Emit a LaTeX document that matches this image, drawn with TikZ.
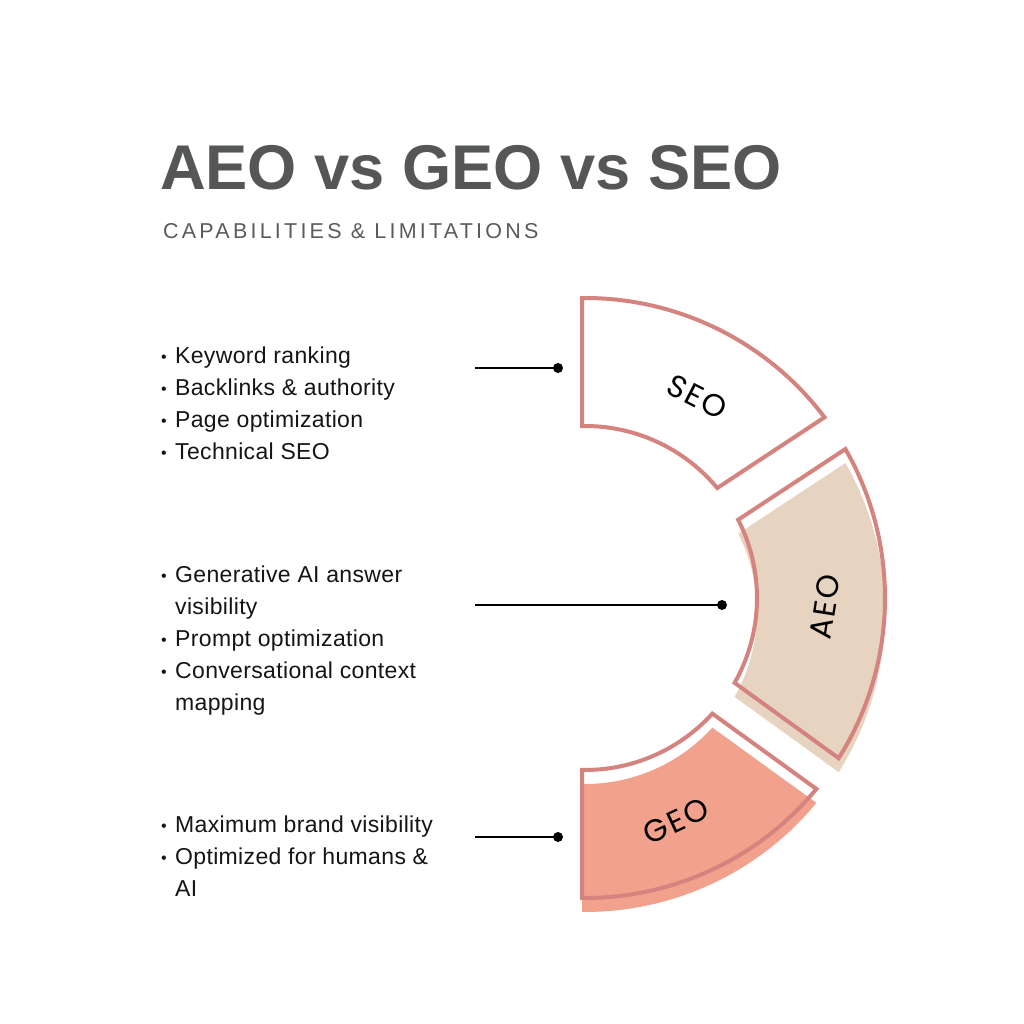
\documentclass[tikz,border=0pt]{standalone}
\usepackage{fontspec}
\setmainfont{Liberation Sans}
\newfontfamily\titlefont{Liberation Sans}
\newfontfamily\subfont[LetterSpace=15]{Liberation Sans}
\newfontfamily\listfont[LetterSpace=1.5]{Liberation Sans}
\newfontfamily\labelfont[LetterSpace=6]{Poppins}
\definecolor{titlegray}{HTML}{545755}
\definecolor{subgray}{HTML}{5A5C5B}
\definecolor{outlinepink}{HTML}{D4837E}
\definecolor{beigefill}{HTML}{E7D4C0}
\definecolor{salmonfill}{HTML}{F2A18D}
\definecolor{listblack}{HTML}{151515}
\def\segSEO{(90.57:300pt) arc[start angle=90.57,end angle=37.03,radius=300pt] -- (39.74:172pt) arc[start angle=39.74,end angle=91.0,radius=172pt] -- cycle}
\def\segAEO{(29.77:300pt) arc[start angle=29.77,end angle=-32.27,radius=300pt] -- (-29.56:172pt) arc[start angle=-29.56,end angle=27.06,radius=172pt] -- cycle}
\def\segGEO{(-39.53:300pt) arc[start angle=-39.53,end angle=-90.57,radius=300pt] -- (-91.0:172pt) arc[start angle=-91.0,end angle=-42.24,radius=172pt] -- cycle}
\begin{document}
\begin{tikzpicture}[x=1pt,y=1pt,
  outline/.style={draw=outlinepink,line width=4pt,line join=miter},
  listline/.style={anchor=base west,inner sep=0pt,text=listblack,font=\listfont\fontsize{23}{32}\selectfont},
  seglabel/.style={inner sep=0pt,text=black,font=\labelfont\fontsize{31}{32}\selectfont},
  dotnode/.style={circle,fill=black,minimum size=10pt,inner sep=0pt},
  conn/.style={draw=black,line width=2.2pt}]
\useasboundingbox (0,0) rectangle (1024,1024);
\fill[white] (0,0) rectangle (1024,1024);
% title
\node[anchor=base west,inner sep=0pt,text=titlegray,font=\titlefont\bfseries\fontsize{63.2}{70}\selectfont] (title) at (160,834) {AEO vs GEO vs SEO};
\node[anchor=base west,inner sep=0pt,text=subgray,font=\subfont\fontsize{21.5}{26}\selectfont] (subtitle) at (163,785.5) {CAPABILITIES \& LIMITATIONS};
% segments
\begin{scope}[shift={(585,426)}]
  \fill[beigefill,shift={(0,-14)}] \segAEO;
  \fill[salmonfill,shift={(0,-14)}] \segGEO;
  \draw[outline,fill=white] \segSEO;
  \draw[outline] \segAEO;
  \draw[outline] \segGEO;
\end{scope}
\node[seglabel,rotate=-27] (seoL) at (697,627) {SEO};
\node[seglabel,rotate=81] (aeoL) at (825,417) {AEO};
\node[seglabel,rotate=25] (geoL) at (676,203) {GEO};
% lists
\newcommand{\bul}{\makebox[14pt][l]{\raisebox{1pt}{\fontsize{16}{16}\selectfont •}}}
\node[listline] (s1) at (161,660) {\bul Keyword ranking};
\node[listline] (s2) at (161,628) {\bul Backlinks \& authority};
\node[listline] (s3) at (161,596) {\bul Page optimization};
\node[listline] (s4) at (161,564) {\bul Technical SEO};
\node[listline] (a1) at (161,441.5) {\bul Generative AI answer};
\node[listline] (a2) at (175,409.5) {visibility};
\node[listline] (a3) at (161,377.5) {\bul Prompt optimization};
\node[listline] (a4) at (161,345.5) {\bul Conversational context};
\node[listline] (a5) at (175,313.5) {mapping};
\node[listline] (g1) at (161,191.5) {\bul Maximum brand visibility};
\node[listline] (g2) at (161,159.5) {\bul Optimized for humans \&};
\node[listline] (g3) at (175,127.5) {AI};
% connectors
\coordinate (cs) at (475,656);
\coordinate (ca) at (475,419);
\coordinate (cg) at (475,187);
\node[dotnode] (ds) at (558,656) {};
\node[dotnode] (da) at (722,419) {};
\node[dotnode] (dg) at (558,187) {};
\draw[conn] (cs) -- (ds.center);
\draw[conn] (ca) -- (da.center);
\draw[conn] (cg) -- (dg.center);
\end{tikzpicture}
\end{document}
